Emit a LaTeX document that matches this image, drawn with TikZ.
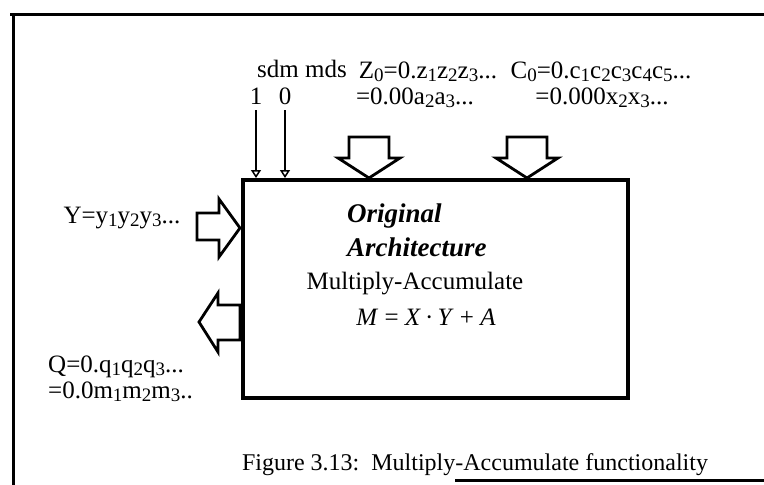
\documentclass[tikz,border=0pt]{standalone}
\usepackage{fontspec}
\setmainfont{Liberation Serif}
\usetikzlibrary{arrows.meta,positioning}

\tikzset{
  lbl/.style={inner sep=0pt, anchor=base, font=\fontsize{25}{28}\selectfont},
  title/.style={inner sep=0pt, anchor=base west, font=\fontsize{27}{30}\selectfont\bfseries\itshape},
  archbox/.style={draw, line width=4pt, minimum width=385pt, minimum height=218pt, inner sep=0pt},
  hollow/.style={draw, line width=2.8pt, line join=miter, fill=white},
  pinarrow/.style={line width=1.8pt, -{Triangle[open, width=10pt, length=8pt, line width=1.5pt]}},
  frame/.style={line width=3pt}
}
\newcommand{\sub}[1]{\raisebox{-0.3ex}{\fontsize{19}{19}\selectfont#1}}

\begin{document}
\begin{tikzpicture}[x=1pt,y=-1pt]
\useasboundingbox (0,0) rectangle (764,485);

% page frame
\draw[frame] (10,14) -- (764,14);
\draw[frame] (13,14) -- (13,485);
\draw[frame] (455,480) -- (764,480);

% the unit
\node[archbox] (box) at (435.5,289) {};
\node[title] (orig) at (347,222) {Original};
\node[title] (arch) at (347,256) {Architecture};
\node[lbl] (mac) at (415,289) {Multiply-Accumulate};
\node[lbl] (eqn) at (426,325) {\textit{M} = \textit{X}\,·\,\textit{Y} + \textit{A}};

% control bits
\node[lbl] (ctl) at (302,77) {sdm mds};
\node[lbl] (one) at (256,104) {1};
\node[lbl] (zero) at (285,104) {0};
\draw[pinarrow] (one.south) ++(0,6) -- (one |- box.north);
\draw[pinarrow] (zero.south) ++(0,6) -- (zero |- box.north);

% operands
\node[lbl] (zin) at (428,78) {Z\sub{0}=0.z\sub{1}z\sub{2}z\sub{3}...};
\node[lbl] (zval) at (415,104) {=0.00a\sub{2}a\sub{3}...};
\node[lbl] (cin) at (601,78) {C\sub{0}=0.c\sub{1}c\sub{2}c\sub{3}c\sub{4}c\sub{5}...};
\node[lbl] (cval) at (602,104) {=0.000x\sub{2}x\sub{3}...};
\node[lbl] (yin) at (122,223) {Y=y\sub{1}y\sub{2}y\sub{3}...};
\node[lbl, anchor=base west] (qout) at (48,372) {Q=0.q\sub{1}q\sub{2}q\sub{3}...};
\node[lbl, anchor=base west] (qval) at (48,398) {=0.0m\sub{1}m\sub{2}m\sub{3}..};

% block arrows
\draw[hollow] (349,137) -- (389,137) -- (389,158) -- (400,158) -- (369,178)
  -- (338,158) -- (349,158) -- cycle;
\draw[hollow] (507,137) -- (547,137) -- (547,158) -- (558,158) -- (527,178)
  -- (496,158) -- (507,158) -- cycle;
\draw[hollow] (197,213) -- (219,213) -- (219,199) -- (240,228) -- (219,257)
  -- (219,240) -- (197,240) -- cycle;
\draw[hollow] (240,305) -- (218,305) -- (218,293) -- (199,322) -- (218,352)
  -- (218,340) -- (240,340) -- cycle;

% caption
\node[lbl, font=\fontsize{24}{27}\selectfont] (cap) at (475,470) {Figure 3.13:\ \ Multiply-Accumulate functionality};
\end{tikzpicture}
\end{document}
